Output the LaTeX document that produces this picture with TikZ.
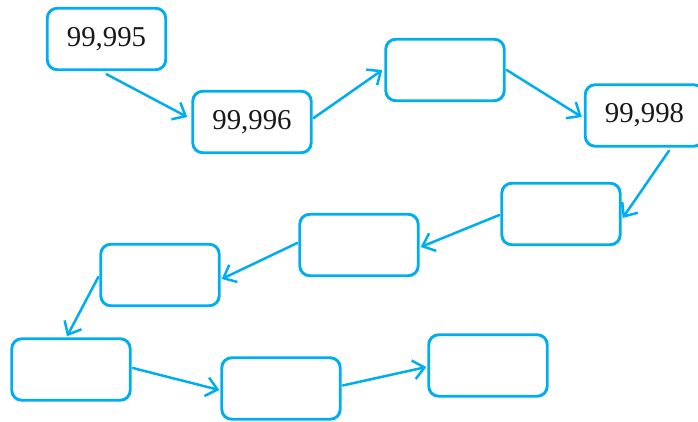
\documentclass[tikz,border=0pt]{standalone}
\usepackage{fontspec}
\setmainfont{Liberation Serif}
\usetikzlibrary{arrows.meta,calc}
\definecolor{cy}{HTML}{00AEEF}
\tikzset{
  numbox/.style={draw=cy, line width=2.9pt, rounded corners=10pt, rectangle,
    minimum width=118.5pt, minimum height=61.5pt, inner sep=0pt,
    font=\fontsize{28.8}{32}\selectfont, text=black!90},
  link/.style={draw=cy, line width=2.5pt, line cap=round,
    -{Straight Barb[length=11pt,width=19pt,line width=2.5pt]}}
}
\begin{document}
\begin{tikzpicture}[x=1pt,y=-1pt]
\useasboundingbox (0,0) rectangle (698,422);
\clip (0,0) rectangle (698,422);
\node[numbox] (b1) at (106.5,39) {99,995};
\node[numbox] (b2) at (252,122) {99,996};
\node[numbox] (b3) at (445,70) {};
\node[numbox] (b4) at (644.5,115.5) {99,998};
\node[numbox] (b5) at (561,214) {};
\node[numbox] (b6) at (359,245) {};
\node[numbox] (b7) at (160,275) {};
\node[numbox] (b8) at (71,369.5) {};
\node[numbox] (b9) at (281,388.5) {};
\node[numbox] (b10) at (488,365.5) {};
\draw[link] ($(b1.south)+(0,3)$) -- ($(b2.west)+(-4,-5)$);
\draw[link] ($(b2.east)+(1,-4)$) -- ($(b3.west)+(-2,0)$);
\draw[link] ($(b3.east)+(1,0)$) -- ($(b4.west)+(-2,1.5)$);
\draw[link] ($(b4.south)+(24.5,3)$) -- ($(b5.east)+(1,4)$);
\draw[link] ($(b5.west)+(-1,1)$) -- ($(b6.east)+(1,2)$);
\draw[link] ($(b6.west)+(-1,-2)$) -- ($(b7.east)+(1,4)$);
\draw[link] ($(b7.west)+(-1,2)$) -- ($(b8.north)+(-4,-1)$);
\draw[link] ($(b8.east)+(1,-1.5)$) -- ($(b9.west)+(-1,1.5)$);
\draw[link] ($(b9.east)+(1,-3)$) -- ($(b10.west)+(-1,1.5)$);
\end{tikzpicture}
\end{document}
